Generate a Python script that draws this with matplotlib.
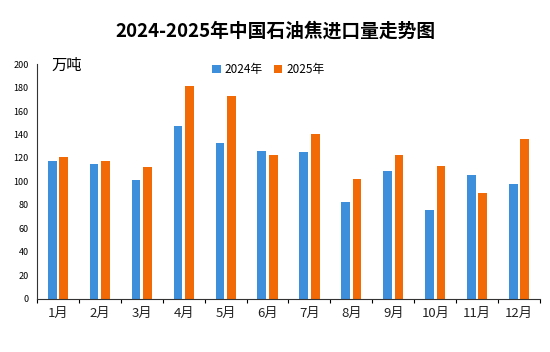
import matplotlib
matplotlib.use('Agg')
import matplotlib.pyplot as plt
import numpy as np

plt.rcParams['font.family'] = ['Noto Sans CJK SC', 'DejaVu Sans']

months = ['1月', '2月', '3月', '4月', '5月', '6月', '7月', '8月', '9月', '10月', '11月', '12月']
imports_2024 = [117.5, 115, 101.5, 147.5, 133, 126, 125.5, 82.5, 109, 76, 105.5, 98]
imports_2025 = [121, 117.5, 112, 181.5, 172.5, 122.5, 140.5, 102.5, 122.5, 113, 90, 136.5]

fig = plt.figure(figsize=(5.5, 3.52), dpi=100)
ax = fig.add_axes([0.067, 0.151, 0.915, 0.667])

x = np.arange(len(months))
w = 0.21
ax.bar(x - 0.135, imports_2024, w, color='#3D8FDB', label='2024年')
ax.bar(x + 0.135, imports_2025, w, color='#F26A05', label='2025年')

ax.set_xlim(-0.5, 11.5)
ax.set_ylim(0, 200)
ax.set_yticks(np.arange(0, 201, 20))
ax.tick_params(axis='y', labelsize=6.5, length=0, pad=6)
ax.set_xticks(x)
ax.set_xticklabels(months, fontsize=9.5, color='#222222')
ax.tick_params(axis='x', length=0, pad=6)
ax.set_xticks(np.arange(-0.5, 12, 1), minor=True)
ax.tick_params(axis='x', which='minor', length=3, direction='out', width=0.8)

for s in ['top', 'right']:
    ax.spines[s].set_visible(False)
ax.spines['left'].set_color('#333333')
ax.spines['bottom'].set_color('#333333')

ax.text(0.03, 1.03, '万吨', transform=ax.transAxes, fontsize=11, va='top', ha='left')
ax.legend(loc='upper center', bbox_to_anchor=(0.46, 1.05), ncol=2, frameon=False,
          fontsize=8.5, handlelength=0.7, handleheight=0.7, columnspacing=1.0, handletextpad=0.3)

fig.suptitle('2024-2025年中国石油焦进口量走势图', fontsize=13.5, fontweight='bold', y=0.94)

fig.savefig('out.png', dpi=100)
